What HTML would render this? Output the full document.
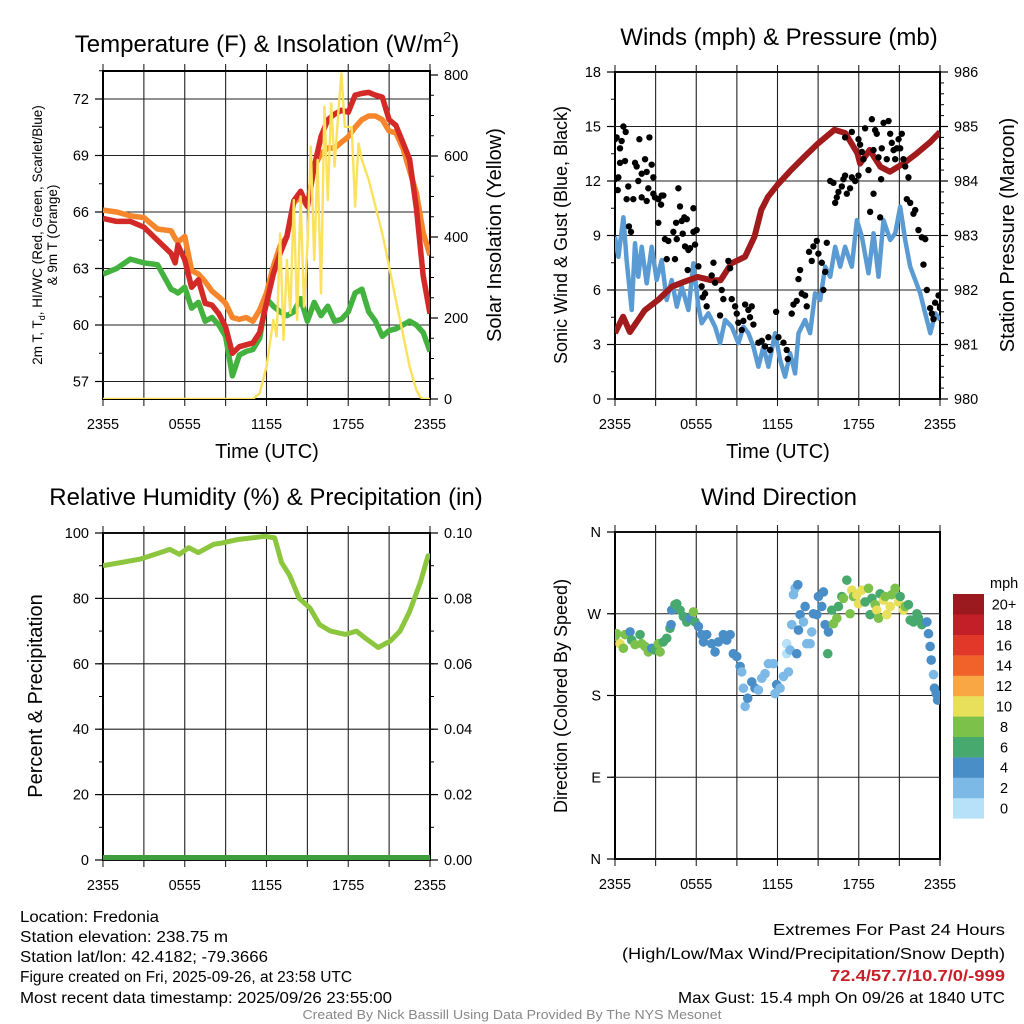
<!DOCTYPE html>
<html><head><meta charset="utf-8"><title>Station Meteogram</title>
<style>
html,body{margin:0;padding:0;background:#fff;}
svg{display:block;font-family:"Liberation Sans",Arial,sans-serif;}
</style></head>
<body>
<svg id="chart" width="1024" height="1024" viewBox="0 0 1024 1024" xmlns="http://www.w3.org/2000/svg">
<defs>
<clipPath id="clip1"><rect x="103" y="71" width="327" height="328"/></clipPath>
<clipPath id="clip2"><rect x="615" y="72" width="325" height="327"/></clipPath>
<clipPath id="clip3"><rect x="103" y="533" width="327" height="327"/></clipPath>
<clipPath id="clip4"><rect x="615" y="532" width="325" height="327"/></clipPath>
</defs>
<g id="layer"></g>
<!-- Titles -->
<text x="267" y="52" font-size="24" text-anchor="middle">Temperature (F) &amp; Insolation (W/m<tspan font-size="15" dy="-10">2</tspan><tspan dy="10">)</tspan></text>
<text x="779" y="45" font-size="24" text-anchor="middle">Winds (mph) &amp; Pressure (mb)</text>
<text x="266" y="505" font-size="24" text-anchor="middle">Relative Humidity (%) &amp; Precipitation (in)</text>
<text x="779" y="505" font-size="24" text-anchor="middle">Wind Direction</text>
<!-- axis titles -->
<text x="267" y="458" font-size="20" text-anchor="middle">Time (UTC)</text>
<text x="778" y="458" font-size="20" text-anchor="middle">Time (UTC)</text>
<text transform="translate(42,235) rotate(-90)" font-size="13.5" text-anchor="middle">2m T, T<tspan font-size="9" dy="3">d</tspan><tspan dy="-3">, HI/WC (Red, Green, Scarlet/Blue)</tspan></text>
<text transform="translate(57,235) rotate(-90)" font-size="13.5" text-anchor="middle">&amp; 9m T (Orange)</text>
<text transform="translate(501,235) rotate(-90)" font-size="20" text-anchor="middle">Solar Insolation (Yellow)</text>
<text transform="translate(567,235) rotate(-90)" font-size="18" text-anchor="middle">Sonic Wind &amp; Gust (Blue, Black)</text>
<text transform="translate(1014,235) rotate(-90)" font-size="20" text-anchor="middle">Station Pressure (Maroon)</text>
<text transform="translate(42,696) rotate(-90)" font-size="20" text-anchor="middle">Percent &amp; Precipitation</text>
<text transform="translate(567,696) rotate(-90)" font-size="18" text-anchor="middle">Direction (Colored By Speed)</text>
<!-- footer text -->
<g font-size="15.5">
<text x="20" y="922" textLength="139" lengthAdjust="spacingAndGlyphs">Location: Fredonia</text>
<text x="20" y="942" textLength="208" lengthAdjust="spacingAndGlyphs">Station elevation: 238.75 m</text>
<text x="20" y="962" textLength="248" lengthAdjust="spacingAndGlyphs">Station lat/lon: 42.4182; -79.3666</text>
<text x="20" y="982" textLength="332" lengthAdjust="spacingAndGlyphs">Figure created on Fri, 2025-09-26, at 23:58 UTC</text>
<text x="20" y="1003" textLength="372" lengthAdjust="spacingAndGlyphs">Most recent data timestamp: 2025/09/26 23:55:00</text>
</g>
<g font-size="16" text-anchor="end">
<text x="1005" y="935" textLength="232" lengthAdjust="spacingAndGlyphs">Extremes For Past 24 Hours</text>
<text x="1005" y="959" textLength="383" lengthAdjust="spacingAndGlyphs">(High/Low/Max Wind/Precipitation/Snow Depth)</text>
<text x="1005" y="981" fill="#c8202a" font-weight="bold" textLength="175" lengthAdjust="spacingAndGlyphs">72.4/57.7/10.7/0/-999</text>
<text x="1005" y="1003" textLength="327" lengthAdjust="spacingAndGlyphs">Max Gust: 15.4 mph On 09/26 at 1840 UTC</text>
</g>
<text x="512" y="1019" font-size="12.5" fill="#888" text-anchor="middle" textLength="419" lengthAdjust="spacingAndGlyphs">Created By Nick Bassill Using Data Provided By The NYS Mesonet</text>
</svg>
<script>
// ---------- Data ----------
const xTickLabels = ["2355","0555","1155","1755","2355"];
const xTickHours = [0,6,12,18,24];
const tHours = [0,1,2,3,4,5,5.3,5.5,6,6.5,7,7.5,8,8.5,9,9.5,10,10.5,11,11.5,12,12.5,13,13.5,14,14.5,15,15.5,16,16.5,17,17.5,18,18.5,19,19.5,20,20.5,21,21.5,22,22.5,23,23.5,24];
const tempRed = [65.66,65.5,65.5,65.2,64.5,63.8,63.3,64.25,63.45,62.0,62.4,61.15,61.05,60.6,59.9,58.5,58.85,58.95,59.05,59.6,61.15,62.7,63.8,64.7,66.6,67.1,66.3,68.4,70.0,70.9,71.2,71.4,71.3,72.2,72.3,72.35,72.2,72.1,70.9,70.6,69.7,68.8,66.2,62.6,60.6];
const temp9m = [66.1,66.0,65.8,65.7,65.1,65.0,64.6,64.4,64.7,62.9,62.7,62.3,61.8,61.5,61.15,60.4,60.3,60.4,60.2,60.8,61.7,63.1,64.2,64.7,66.5,66.8,66.3,68.4,69.1,69.4,69.4,69.7,70.0,70.5,70.9,71.1,71.1,70.9,70.3,70.2,69.4,68.2,67.0,64.9,63.7];
const dewGreen = [62.7,63.0,63.5,63.3,63.2,61.9,61.8,61.7,62.0,60.9,61.2,60.2,60.4,60.0,59.4,57.3,58.4,58.6,58.7,59.3,61.4,61.0,60.7,60.5,60.7,61.4,60.2,61.2,60.5,61.0,60.2,60.3,60.7,61.7,61.9,60.7,60.2,59.4,59.7,59.8,60.0,60.2,60.0,59.6,58.6];
const tempTicks = [57,60,63,66,69,72];
const solarHours = [0,11,11.5,12,12.25,12.5,12.75,13,13.25,13.5,13.75,14,14.25,14.5,14.75,15,15.25,15.5,15.75,16,16.25,16.5,16.75,17,17.25,17.5,17.75,18,18.25,18.5,18.75,19,19.5,20,20.5,21,21.5,22,22.5,23,23.25,23.5,24];
const solarVals = [0,0,14,80,137,195,154,409,146,343,212,491,195,500,228,376,623,343,590,261,722,491,730,574,697,804,672,672,670,475,631,590,541,475,409,327,244,162,80,22,6,0,0];
const solarTicks = [0,200,400,600,800];

const windHours = [0,0.25,0.62,0.86,1.23,1.48,1.72,1.97,2.34,2.71,3.08,3.45,3.82,4.19,4.56,4.93,5.42,5.79,6.16,6.4,6.9,7.39,7.76,8.13,8.62,9.11,9.48,9.85,10.22,10.59,10.96,11.33,11.82,12.19,12.56,12.93,13.3,13.55,14.04,14.41,14.78,15.15,15.52,15.89,16.26,16.63,16.99,17.49,17.86,18.23,18.72,19.09,19.46,19.83,20.32,20.69,21.06,21.43,21.8,22.17,22.54,22.91,23.28,23.65,24];
const windSpeed = [8.93,7.83,10.0,7.65,4.9,8.57,6.73,8.38,6.37,8.38,6.55,7.65,5.45,6.55,5.08,6.18,4.9,7.47,5.08,4.17,4.72,3.98,3.07,4.35,3.98,3.07,3.98,3.62,2.88,1.78,2.88,1.78,3.62,2.15,1.23,2.52,1.41,3.62,4.35,3.62,5.82,5.45,7.28,6.73,8.38,7.28,8.38,7.28,9.85,8.93,6.92,9.12,6.73,9.85,8.75,9.12,10.58,8.75,7.28,6.55,5.82,4.72,3.62,4.72,4.35];
const gustHours = [0,0.12,0.62,0.79,0.49,0.37,0.25,0,0.2,0.37,0.74,0.98,0.86,1.35,1.03,1.18,1.48,1.6,1.72,1.8,1.97,2.22,2.34,2.46,2.54,2.71,2.83,2.34,1.97,2.83,2.95,3.2,3.45,3.57,3.4,3.2,3.69,3.94,3.82,4.31,4.43,4.51,4.68,4.8,4.56,4.93,5.12,5.3,5.0,5.17,5.42,5.54,5.79,5.79,6.03,5.91,5.37,6.16,6.4,6.65,6.48,6.77,7.27,7.14,7.39,7.88,8.0,7.76,8.37,8.5,8.62,8.87,8.99,9.11,9.36,9.61,9.85,10.1,9.97,9.48,10.22,10.59,10.84,11.08,11.33,11.45,11.9,12.07,12.44,12.68,12.76,13.05,13.18,13.42,13.55,13.67,13.79,14.04,14.16,14.33,14.53,14.65,14.9,15.02,15.27,15.52,15.64,15.39,15.89,16.13,16.26,16.38,16.5,16.75,16.87,16.99,17.12,17.36,17.49,17.73,17.98,16.99,17.49,17.98,18.1,18.23,18.35,18.47,18.72,18.97,19.21,19.09,19.33,19.46,19.7,19.83,20.07,20.2,20.32,20.44,20.57,20.69,20.94,20.81,21.06,21.18,21.3,21.43,21.67,21.55,21.8,22.04,22.17,22.41,22.66,22.91,22.78,23.03,23.27,23.4,23.64,23.89,24,24,23.52,19.09,18.84,19.58,19.65];
const gustSpeed = [14.3,14.4,15.0,14.7,14.2,13.8,12.2,12.1,11.5,13.0,13.1,11.7,11.0,11.0,9.5,9.2,13.0,12.8,12.0,14.3,12.4,13.2,12.5,11.6,14.4,12.9,12.2,10.9,11.1,11.3,11.1,11.0,11.2,11.2,10.7,9.7,8.8,8.7,7.7,9.2,7.7,9.7,11.6,10.6,8.8,9.8,10.0,9.9,9.1,8.4,8.2,8.3,10.5,9.2,9.3,8.5,7.1,7.3,6.2,5.8,5.6,5.1,7.5,6.8,6.4,6.0,5.5,4.6,7.6,7.2,5.5,5.1,4.7,4.2,3.8,5.2,4.9,5.1,4.5,4.3,4.1,3.1,3.2,2.9,3.4,2.7,4.8,3.4,3.1,2.7,2.2,4.7,5.2,5.4,6.6,7.1,5.8,5.7,5.1,8.1,7.6,8.4,8.7,8.0,7.5,7.0,8.6,6.0,12.0,11.9,10.8,11.1,11.4,11.7,12.1,12.3,11.3,11.6,12.2,12.0,12.3,14.4,14.7,14.3,14.0,13.6,13.2,14.9,12.6,15.4,14.8,13.7,14.6,13.3,13.8,15.2,13.2,15.3,14.6,14.1,13.7,13.2,14.3,13.8,13.8,14.6,13.2,12.8,12.2,11.0,10.8,10.2,10.4,9.3,8.9,8.8,7.4,6.0,5.0,4.7,5.3,5.7,5.0,5.1,4.4,11.3,10.3,10.0,12.1];
const presHours = [0,0.6,1.1,2.2,3.2,4.2,5.1,6.1,7.1,7.8,8.6,9.6,10.3,10.8,11.3,12,13,14,15,16.2,17,17.9,18.1,18.8,19.6,20.3,21.3,22.3,23.3,24];
const presVals = [981.21,981.51,981.23,981.63,981.82,982.06,982.15,982.24,982.18,982.18,982.49,982.61,982.98,983.47,983.71,983.93,984.2,984.45,984.69,984.94,984.88,984.51,984.32,984.57,984.26,984.17,984.32,984.51,984.72,984.9];
const windTicks = [0,3,6,9,12,15,18];
const presTicks = [980,981,982,983,984,985,986];

const rhHours = [0,2.7,4.2,4.9,5.6,6.3,7.0,8.1,8.8,9.9,11.9,12.6,13.1,13.7,14.4,15.2,15.9,16.7,17.8,18.6,19.2,20.2,21.1,21.8,22.5,23.3,23.85,24];
const rhVals = [90,92,94,95,93.5,95.5,94,96.5,97,98,99,98.5,91,87,80,77,72,70,69,70,68,65,67,70,76,85,93,93];
const precipVals = [0,0];
const rhTicks = [0,20,40,60,80,100];
const precipTicks = ["0.00","0.02","0.04","0.06","0.08","0.10"];

const dirHours = [0,0.12,0.37,0.62,0.74,1.11,1.23,1.48,1.85,1.97,
2.22,2.46,2.71,2.96,3.2,3.33,3.57,3.82,4.06,4.14,
4.19,4.43,4.56,4.8,5.05,5.3,5.54,5.79,5.91,6.16,
6.4,6.53,6.77,7.14,7.39,7.63,8.0,8.25,8.5,8.74,
8.99,9.24,9.36,9.48,9.61,9.8,10.1,10.34,10.59,10.84,
11.08,11.33,11.7,11.82,11.94,12.19,12.44,12.81,12.68,12.68,
12.93,13.18,13.3,13.5,13.05,13.42,13.55,13.67,13.92,14.04,
14.16,14.41,14.53,14.65,14.9,15.02,15.27,15.39,15.52,15.76,
15.71,16.01,16.13,16.38,16.5,16.75,16.87,17.12,17.36,17.49,
17.61,17.86,17.98,18.23,18.47,18.72,18.84,18.97,19.21,19.33,
19.46,19.58,19.83,19.95,20.07,20.32,20.44,20.69,20.94,21.06,
21.3,21.43,21.67,21.8,22.04,22.29,22.41,22.66,23.03,23.15,
23.27,23.35,23.52,23.59,23.72,23.82,24];
const dirDeg = [245,248,237,232,247,250,241,236,247,237,
234,228,232,230,237,228,239,243,254,258,
274,280,281,274,267,261,265,272,261,256,
247,239,247,237,228,239,247,241,247,226,
223,212,206,188,168,177,195,188,186,199,
204,215,215,182,192,188,201,206,226,237,
230,291,298,302,258,226,252,269,261,278,
237,237,250,270,269,289,278,294,258,250,
226,274,259,265,278,289,287,307,270,296,
289,291,281,296,283,298,269,287,280,274,
265,292,285,289,269,278,291,298,283,289,
274,278,280,263,261,270,265,258,261,248,
234,219,203,188,182,175,177];
const dirSpeed = [9,9,11,9,9,5,7,9,7,9,
9,9,5,7,9,9,7,7,7,5,
5,7,7,7,7,7,5,9,7,5,
5,5,5,5,5,5,5,5,5,5,
5,5,3,3,3,5,5,5,3,3,
3,3,3,3,5,3,3,3,1,1,
3,3,3,5,3,5,5,5,3,5,
3,3,3,5,5,5,5,5,5,5,
7,7,9,9,7,7,9,7,9,11,
9,11,11,11,7,9,7,7,9,11,
9,7,11,9,11,11,9,9,11,7,
11,9,7,7,7,7,7,7,5,5,
5,5,3,5,5,5,5];
const dirTicks = [0,90,180,270,360];
const dirTickLabels = ["N","E","S","W","N"];
const speedBins = ["0","2","4","6","8","10","12","14","16","18","20+"];
const speedColors = ["#b6e1f8","#7cb9e6","#4a8ec8","#48a96e","#7cc24a","#e8e05a","#f9a645","#f06229","#e2382a","#c21f28","#9b1a1f"];

// ---------- helpers ----------
const NS = "http://www.w3.org/2000/svg";
const root = document.getElementById("layer");
function mk(tag, attrs, parent){
  const e = document.createElementNS(NS, tag);
  for (const k in attrs) e.setAttribute(k, attrs[k]);
  (parent || root).appendChild(e);
  return e;
}
function lin(d0,d1,r0,r1){ return v => r0 + (v-d0)/(d1-d0)*(r1-r0); }

const panels = [
  {x0:103,x1:430,y0:71,y1:399,clip:"clip1"},
  {x0:615,x1:940,y0:72,y1:399,clip:"clip2"},
  {x0:103,x1:430,y0:533,y1:860,clip:"clip3"},
  {x0:615,x1:940,y0:532,y1:859,clip:"clip4"}
];
panels.forEach(p => { p.x = lin(0,24,p.x0,p.x1); });

function frame(p, idx){
  for (let h=0; h<=24; h+=3){
    const X = p.x(h);
    const g = mk("line",{x1:X,x2:X,y1:p.y0-7,y2:p.y1+7,stroke:"#222","stroke-width":1.1});
    
    
  }
  xTickHours.forEach((h,i)=>{
    const t = mk("text",{x:p.x(h),y:p.y1+30,"font-size":14.5,"text-anchor":"middle"});
    t.textContent = xTickLabels[i];
    
    
  });
  const r = mk("rect",{x:p.x0,y:p.y0,width:p.x1-p.x0,height:p.y1-p.y0,fill:"none",stroke:"#000","stroke-width":2});
  
  
}
function yAxis(p, scale, ticks, labels, side, minorStep, lo, hi, grid){
  const isL = side==="left";
  const xe = isL ? p.x0 : p.x1;
  const dir = isL ? -1 : 1;
  for (let v=lo; v<=hi+1e-9; v+=minorStep){
    const Y = scale(v);
    if (Y < p.y0-0.5 || Y > p.y1+0.5) continue;
    const m = mk("line",{x1:xe,x2:xe+dir*4,y1:Y,y2:Y,stroke:"#000","stroke-width":1});
    
    
  }
  ticks.forEach((v,i)=>{
    const Y = scale(v);
    if (grid){
      const gl = mk("line",{x1:p.x0,x2:p.x1,y1:Y,y2:Y,stroke:"#222","stroke-width":1.1});
      
      
    }
    const tk = mk("line",{x1:xe,x2:xe+dir*8,y1:Y,y2:Y,stroke:"#000","stroke-width":1.2});
    
    
    const t = mk("text",{x:isL? xe-14 : xe+14,y:Y+5,"font-size":14.5,"text-anchor":isL?"end":"start"});
    t.textContent = labels[i];
    
    
  });
}
function pathFrom(xs, ys, sx, sy){
  return xs.map((h,i)=>(i?"L":"M")+sx(h).toFixed(1)+","+sy(ys[i]).toFixed(1)).join("");
}

// ---------- Panel 1 ----------
const P1 = panels[0];
const yT = lin(72,57,99,381.5);
const yS = lin(0,800,399,75);
frame(P1,1);
yAxis(P1, yT, tempTicks, tempTicks.map(String), "left", 1.5, 55.5, 73.5, true);
yAxis(P1, yS, solarTicks, solarTicks.map(String), "right", 50, 0, 800, false);
const g1 = mk("g",{"clip-path":"url(#clip1)"});


const sDew = mk("path",{d:pathFrom(tHours,dewGreen,P1.x,yT),fill:"none",stroke:"#43b23f","stroke-width":5.5,"stroke-linejoin":"round"},g1);


const s9m = mk("path",{d:pathFrom(tHours,temp9m,P1.x,yT),fill:"none",stroke:"#f5862c","stroke-width":5.5,"stroke-linejoin":"round"},g1);


const sT = mk("path",{d:pathFrom(tHours,tempRed,P1.x,yT),fill:"none",stroke:"#d42a27","stroke-width":5.5,"stroke-linejoin":"round"},g1);


const sSolar = mk("path",{d:pathFrom(solarHours,solarVals,P1.x,yS),fill:"none",stroke:"#fbe15c","stroke-width":2.4,"stroke-linejoin":"round"},g1);



// ---------- Panel 2 ----------
const P2 = panels[1];
const yW = lin(0,18,399,72);
const yP = lin(980,986,399,72);
frame(P2,2);
yAxis(P2, yW, windTicks, windTicks.map(String), "left", 1.5, 0, 18, true);
yAxis(P2, yP, presTicks, presTicks.map(String), "right", 0.2, 980, 986, false);
const g2 = mk("g",{"clip-path":"url(#clip2)"});


const sW = mk("path",{d:pathFrom(windHours,windSpeed,P2.x,yW),fill:"none",stroke:"#5a9bd4","stroke-width":4.5,"stroke-linejoin":"round"},g2);


const sP = mk("path",{d:pathFrom(presHours,presVals,P2.x,yP),fill:"none",stroke:"#a11a1c","stroke-width":6,"stroke-linejoin":"round"},g2);


gustHours.forEach((h,i)=>{
  const c = mk("circle",{cx:P2.x(h),cy:yW(gustSpeed[i]),r:3.2,fill:"#000"},g2);
  
  
});

// ---------- Panel 3 ----------
const P3 = panels[2];
const yR = lin(0,100,860,533);
frame(P3,3);
yAxis(P3, yR, rhTicks, rhTicks.map(String), "left", 10, 0, 100, true);
yAxis(P3, yR, rhTicks, precipTicks, "right", 10, 0, 100, false);
const g3 = mk("g",{"clip-path":"url(#clip3)"});


const sRH = mk("path",{d:pathFrom(rhHours,rhVals,P3.x,yR),fill:"none",stroke:"#8cc63f","stroke-width":5,"stroke-linejoin":"round"},g3);


const yPr = lin(0,0.1,860,533);
const sPr = mk("path",{d:pathFrom([0,24],precipVals,P3.x,yPr),fill:"none",stroke:"#3e9e3e","stroke-width":10},g3);



// ---------- Panel 4 ----------
const P4 = panels[3];
const yD = lin(0,360,859,532);
frame(P4,4);
yAxis(P4, yD, dirTicks, dirTickLabels, "left", 90, 0, 360, true);
const g4 = mk("g",{"clip-path":"url(#clip4)"});


dirHours.forEach((h,i)=>{
  const bin = Math.min(10, Math.floor(dirSpeed[i]/2));
  const c = mk("circle",{cx:P4.x(h),cy:yD(dirDeg[i]),r:4.8,fill:speedColors[bin]},g4);
  
  
});
// colorbar
const cb = mk("g",{});


const mph = mk("text",{x:990,y:588,"font-size":14.5},cb);
mph.textContent = "mph";


speedBins.forEach((lab,i)=>{
  const k = speedBins.length-1-i;
  const Y = 594 + k*20.4;
  const r = mk("rect",{x:953,y:Y,width:31,height:20.6,fill:speedColors[i]},cb);
  
  
  const t = mk("text",{x:1004,y:Y+15.5,"font-size":14.5,"text-anchor":"middle"},cb);
  t.textContent = lab;
  
  
});
</script>
</body></html>
